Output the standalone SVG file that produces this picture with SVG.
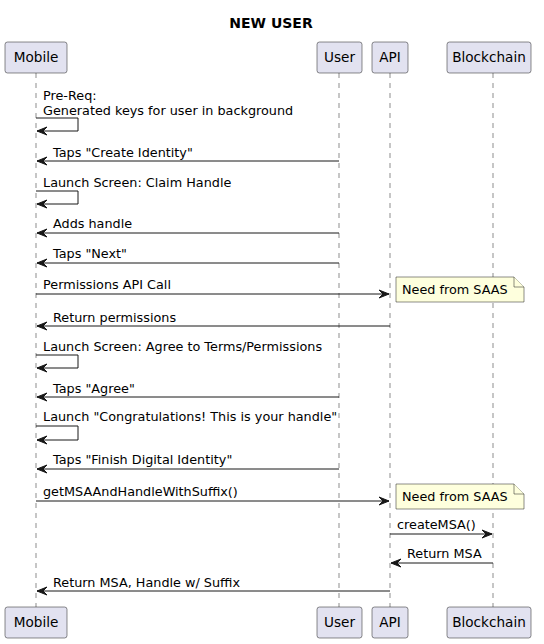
<svg xmlns="http://www.w3.org/2000/svg" width="544" height="644" viewBox="0 0 544 644">
<defs>
<style>
.bg{fill:#FFFFFF}
.part rect{fill:#E2E2F0;stroke:#181818;stroke-width:0.5}
.part text{font-family:"DejaVu Sans",sans-serif;font-size:13.6px;fill:#000000}
.life{stroke:#181818;stroke-width:0.5;stroke-dasharray:5,5;fill:none}
.msg{stroke:#181818;stroke-width:1;fill:none}
.lbl{font-family:"DejaVu Sans",sans-serif;font-size:12.8px;fill:#000000}
.note path{fill:#FEFFDD;stroke:#181818;stroke-width:0.5}
.title{font-family:"DejaVu Sans",sans-serif;font-size:14px;font-weight:bold;fill:#000000}
</style>
<marker id="ah" viewBox="0 0 11 10" refX="10" refY="5" markerWidth="11" markerHeight="10" markerUnits="userSpaceOnUse" orient="auto-start-reverse">
<path d="M0,1 L10,5 L0,9 L4,5 Z" fill="#181818" stroke="#181818" stroke-width="1"/>
</marker>
</defs>
<rect class="bg" x="0" y="0" width="544" height="644"/>
<text class="title" x="271" y="28" text-anchor="middle">NEW USER</text>

<g id="lifelines">
<line class="life" x1="36" y1="73" x2="36" y2="607"/>
<line class="life" x1="339" y1="73" x2="339" y2="607"/>
<line class="life" x1="390" y1="73" x2="390" y2="607"/>
<line class="life" x1="493" y1="73" x2="493" y2="607"/>
</g>

<g id="Mobile" class="part">
<rect x="5" y="42" width="62" height="31" rx="2.5"/>
<text x="36" y="62" text-anchor="middle">Mobile</text>
<rect x="5" y="607" width="62" height="31" rx="2.5"/>
<text x="36" y="627" text-anchor="middle">Mobile</text>
</g>
<g id="User" class="part">
<rect x="317" y="42" width="45" height="31" rx="2.5"/>
<text x="339.5" y="62" text-anchor="middle">User</text>
<rect x="317" y="607" width="45" height="31" rx="2.5"/>
<text x="339.5" y="627" text-anchor="middle">User</text>
</g>
<g id="API" class="part">
<rect x="372" y="42" width="36" height="31" rx="2.5"/>
<text x="390" y="62" text-anchor="middle">API</text>
<rect x="372" y="607" width="36" height="31" rx="2.5"/>
<text x="390" y="627" text-anchor="middle">API</text>
</g>
<g id="Blockchain" class="part">
<rect x="447" y="42" width="84" height="31" rx="2.5"/>
<text x="489" y="62" text-anchor="middle">Blockchain</text>
<rect x="447" y="607" width="84" height="31" rx="2.5"/>
<text x="489" y="627" text-anchor="middle">Blockchain</text>
</g>

<g id="notes">
<g id="note1" class="note">
<path d="M396,277 L514,277 L524,287 L524,302 L396,302 Z"/>
<path d="M514,277 L514,287 L524,287"/>
<text class="lbl" x="402" y="294">Need from SAAS</text>
</g>
<g id="note2" class="note">
<path d="M396,484 L514,484 L524,494 L524,509 L396,509 Z"/>
<path d="M514,484 L514,494 L524,494"/>
<text class="lbl" x="402" y="501">Need from SAAS</text>
</g>
</g>

<g id="connectors">
<path class="msg" d="M36,118 L78,118 L78,131 L37,131" marker-end="url(#ah)"/>
<line class="msg" x1="339" y1="161" x2="37" y2="161" marker-end="url(#ah)"/>
<path class="msg" d="M36,191 L78,191 L78,204 L37,204" marker-end="url(#ah)"/>
<line class="msg" x1="339" y1="233" x2="37" y2="233" marker-end="url(#ah)"/>
<line class="msg" x1="339" y1="263" x2="37" y2="263" marker-end="url(#ah)"/>
<line class="msg" x1="36" y1="294" x2="389" y2="294" marker-end="url(#ah)"/>
<line class="msg" x1="390" y1="326" x2="37" y2="326" marker-end="url(#ah)"/>
<path class="msg" d="M36,355 L78,355 L78,368 L37,368" marker-end="url(#ah)"/>
<line class="msg" x1="339" y1="397" x2="37" y2="397" marker-end="url(#ah)"/>
<path class="msg" d="M36,426 L78,426 L78,440 L37,440" marker-end="url(#ah)"/>
<line class="msg" x1="339" y1="469" x2="37" y2="469" marker-end="url(#ah)"/>
<line class="msg" x1="36" y1="501" x2="389" y2="501" marker-end="url(#ah)"/>
<line class="msg" x1="390" y1="534" x2="492" y2="534" marker-end="url(#ah)"/>
<line class="msg" x1="493" y1="563" x2="391" y2="563" marker-end="url(#ah)"/>
<line class="msg" x1="390" y1="591" x2="37" y2="591" marker-end="url(#ah)"/>
</g>

<g id="labels">
<text class="lbl" x="43" y="100">Pre-Req:</text>
<text class="lbl" x="43" y="115">Generated keys for user in background</text>
<text class="lbl" x="53" y="157">Taps "Create Identity"</text>
<text class="lbl" x="43" y="187">Launch Screen: Claim Handle</text>
<text class="lbl" x="53" y="228">Adds handle</text>
<text class="lbl" x="53" y="258">Taps "Next"</text>
<text class="lbl" x="43" y="289">Permissions API Call</text>
<text class="lbl" x="53" y="322">Return permissions</text>
<text class="lbl" x="43" y="351">Launch Screen: Agree to Terms/Permissions</text>
<text class="lbl" x="53" y="393">Taps "Agree"</text>
<text class="lbl" x="43" y="421">Launch "Congratulations! This is your handle"</text>
<text class="lbl" x="53" y="464">Taps "Finish Digital Identity"</text>
<text class="lbl" x="43" y="496">getMSAAndHandleWithSuffix()</text>
<text class="lbl" x="397" y="529">createMSA()</text>
<text class="lbl" x="407" y="558">Return MSA</text>
<text class="lbl" x="53" y="587">Return MSA, Handle w/ Suffix</text>
</g>
</svg>
